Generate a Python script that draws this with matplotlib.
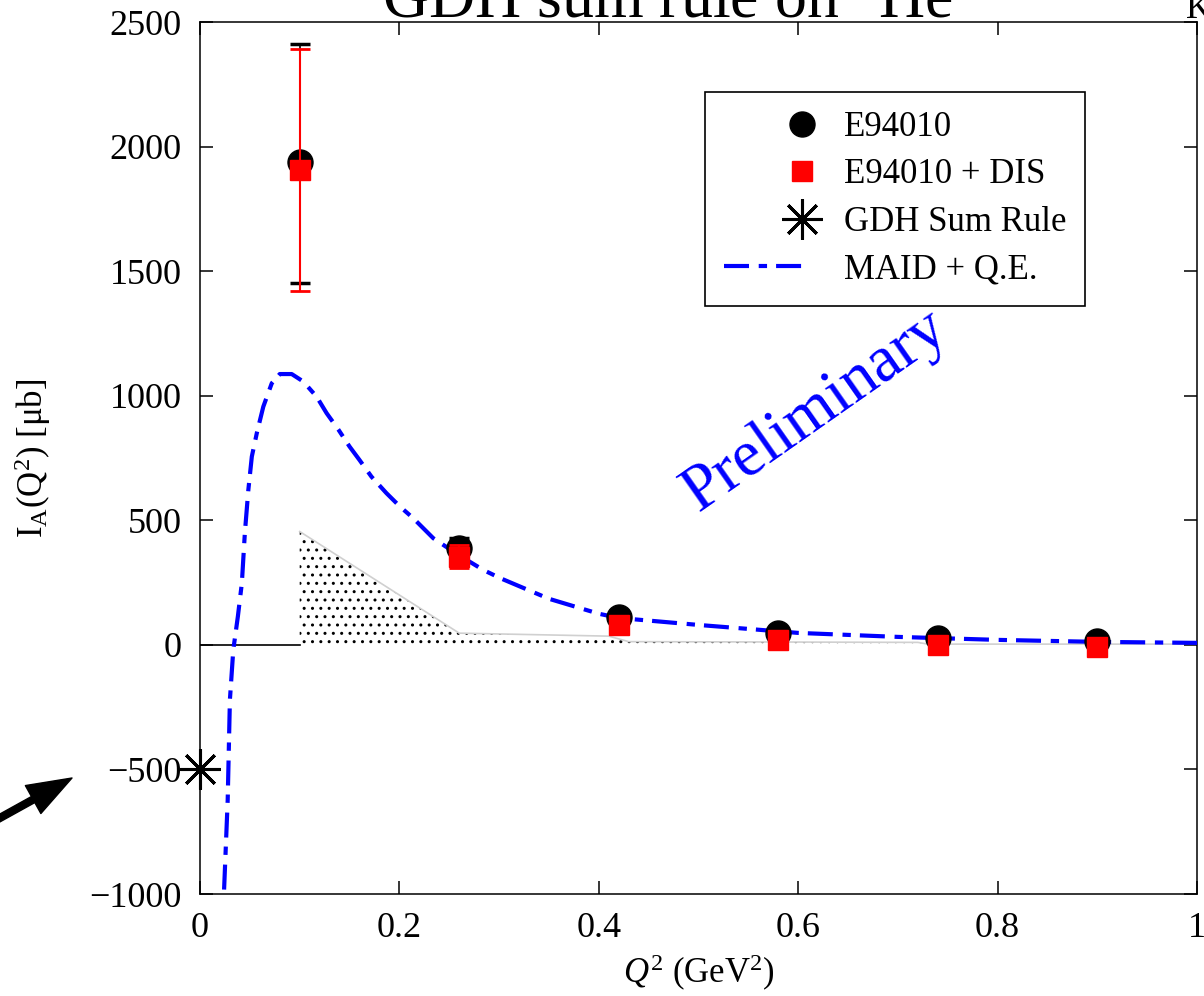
import numpy as np
import matplotlib
matplotlib.use('Agg')
import matplotlib.pyplot as plt
from matplotlib.lines import Line2D
from matplotlib.legend_handler import HandlerLine2D

plt.rcParams['font.family'] = ['Liberation Serif', 'DejaVu Serif']
plt.rcParams['mathtext.fontset'] = 'custom'
plt.rcParams['mathtext.rm'] = 'Liberation Serif'
plt.rcParams['mathtext.it'] = 'Liberation Serif:italic'
plt.rcParams['lines.scale_dashes'] = False
plt.rcParams['hatch.linewidth'] = 1.0

# E94010 measured points (Q^2 in GeV^2, I_A in microbarn)
q2 = [0.10, 0.26, 0.42, 0.58, 0.74, 0.90]
ia_e94010 = [1940, 388, 112, 48, 28, 16]
err_lo_e94010 = [486, 40, 25, 20, 20, 20]
err_hi_e94010 = [472, 40, 25, 20, 20, 20]

# E94010 + DIS contribution
ia_dis = [1905, 354, 80, 20, 0, -8]
err_lo_dis = [483, 46, 30, 25, 25, 25]
err_hi_dis = [487, 46, 30, 25, 25, 25]

# GDH sum rule at the real photon point
gdh_q2 = [0.0]
gdh_val = [-498]

# MAID + quasi-elastic model
maid_q2 = [0.020, 0.0240, 0.0278, 0.0300, 0.0334, 0.038, 0.042, 0.045, 0.0485,
           0.052, 0.057, 0.0635, 0.072, 0.080, 0.092, 0.1036, 0.117, 0.127,
           0.139, 0.150, 0.160, 0.172, 0.187, 0.2006, 0.214, 0.234, 0.249,
           0.2675, 0.284, 0.301, 0.35, 0.40, 0.42, 0.50, 0.60, 0.70, 0.80,
           0.90, 1.00]
maid_val = [-1400, -1000, -622, -221, -20, 114, 248, 449, 622, 756, 850, 956,
            1050, 1087, 1087, 1057, 996, 930, 863, 796, 742, 675, 609, 555,
            508, 428, 388, 341, 301, 268, 185, 125, 108, 80, 48, 32, 20, 12, 8]

# shaded band (DIS estimate)
band_q2 = [0.10, 0.26, 0.41, 0.43, 0.72, 0.73, 1.00]
band_val = [455, 47, 35, 13, 10, 3, 3]

xticks = [0, 0.2, 0.4, 0.6, 0.8, 1.0]
xticklabels = ['0', '0.2', '0.4', '0.6', '0.8', '1']
yticks = [-1000, -500, 0, 500, 1000, 1500, 2000, 2500]

dash = (18, 7, 6, 6.5)


class RightMarker(HandlerLine2D):
    # single marker drawn near the right end of the legend sample
    def get_xdata(self, legend, xdescent, ydescent, width, height, fontsize):
        x0 = -xdescent + 0.92 * width
        x1 = -xdescent + width
        return [x0, x1], [0.5 * (x0 + x1)]


fig = plt.figure(figsize=(12.04, 9.96), dpi=100)
ax = fig.add_axes([0.1661, 0.1024, 0.8281, 0.8755])

ax.fill_between(band_q2, 0, band_val, facecolor='white', edgecolor='black',
                hatch='..', linewidth=0, zorder=1)
ax.plot(band_q2, band_val, color='#d0d0d0', lw=1.2, zorder=1.5)
ax.plot([0, 0.1], [0, 0], color='black', lw=1.2, zorder=1.5)

ax.plot(maid_q2, maid_val, color='blue', lw=3, dashes=dash, zorder=3)

ax.errorbar(q2, ia_e94010, yerr=[err_lo_e94010, err_hi_e94010], fmt='o',
            color='black', ms=18, elinewidth=1.2, capsize=7, capthick=2.5,
            zorder=4)
ax.errorbar(q2, ia_dis, yerr=[err_lo_dis, err_hi_dis], fmt='s',
            color='red', mec='red', ms=14.5, elinewidth=1.5, capsize=7,
            capthick=2, zorder=5)
ax.plot(gdh_q2, gdh_val, ls='none', marker=(8, 2, 0), ms=29, mew=2.2,
        color='black', clip_on=False, zorder=6)

ax.set_xlim(0, 1)
ax.set_ylim(-1000, 2500)
ax.set_xticks(xticks)
ax.set_xticklabels(xticklabels)
ax.set_yticks(yticks)
ax.tick_params(direction='in', length=9.5, width=1.1, top=True, right=True,
               labelsize=26, pad=13)
for sp in ax.spines.values():
    sp.set_linewidth(1.1)

ax.set_xlabel(r'$Q^2$ (GeV$^2$)', fontsize=25, labelpad=6)
ax.set_ylabel(r'I$_\mathrm{A}$(Q$^2$) [μb]', fontsize=25, labelpad=26)

h_circ = Line2D([], [], ls='none', marker='o', color='black', ms=18)
h_sq = Line2D([], [], ls='none', marker='s', color='red', mec='red', ms=14.5)
h_star = Line2D([], [], ls='none', marker=(8, 2, 0), color='black', ms=29, mew=2.2)
h_maid = Line2D([], [], color='blue', lw=3, dashes=dash)
handles = [h_circ, h_sq, h_star, h_maid]
labels = ['E94010', 'E94010 + DIS', 'GDH Sum Rule', 'MAID + Q.E.']
leg = ax.legend(handles, labels, loc='upper right', bbox_to_anchor=(0.888, 0.920),
                borderaxespad=0, fontsize=25, fancybox=False, framealpha=1,
                edgecolor='black', handlelength=2.35, handletextpad=1.1,
                borderpad=0.55, labelspacing=0.42,
                handler_map={h_circ: RightMarker(), h_sq: RightMarker(),
                             h_star: RightMarker()})
leg.get_frame().set_linewidth(1.2)

fig.text(0.677, 0.587, 'Preliminary', rotation=35, color='blue', fontsize=47,
         ha='center', va='center', rotation_mode='anchor')

fig.text(667 / 1204, 1 - 18 / 996, r'GDH sum rule on $^3$He', ha='center',
         va='baseline', fontsize=46)
fig.text(1186 / 1204, 1 - 18 / 996, 'K', ha='left', va='baseline', fontsize=26)

ax.annotate('', xy=(72, 218), xycoords='figure pixels', xytext=(-20, 167),
            textcoords='figure pixels',
            arrowprops=dict(width=5, headwidth=23, headlength=32,
                            color='black', shrink=0))

fig.savefig('out.png', dpi=100)
